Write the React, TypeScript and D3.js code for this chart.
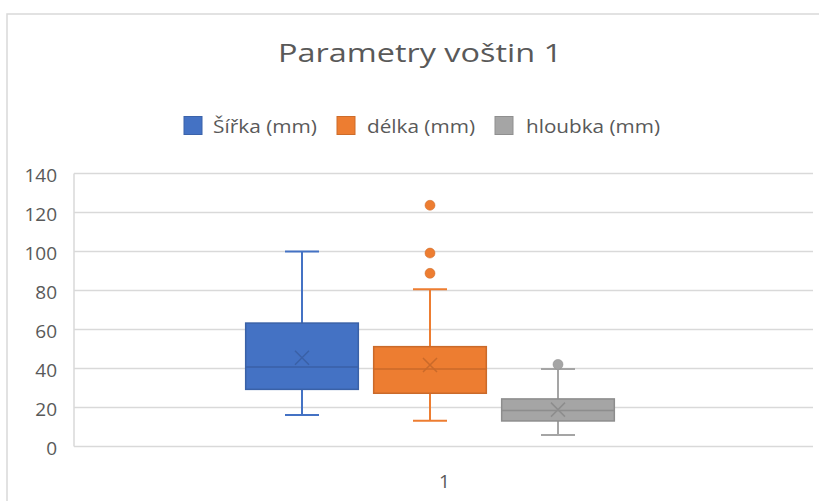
import React from "react";
import * as d3 from "d3";

const categories = ["1"];
const seriesNames = ["Šířka (mm)", "délka (mm)", "hloubka (mm)"];
const seriesColors = ["#4472C4", "#ED7D31", "#A5A5A5"];
// [whiskerLow, q1, median, q3, whiskerHigh, mean]
const sirka = [16.2, 29.3, 40.8, 63.3, 100, 45.5];
const delka = [13.2, 27.3, 39.7, 51.2, 80.6, 41.8];
const hloubka = [5.9, 13.1, 18.4, 24.4, 39.7, 18.9];
const sirkaOutliers: number[] = [];
const delkaOutliers = [123.7, 99.2, 88.8];
const hloubkaOutliers = [42.1];
const yTicks = [0, 20, 40, 60, 80, 100, 120, 140];
const title = "Parametry voštin 1";

const W = 819;
const H = 501;
const FONT = "'Open Sans', 'Liberation Sans', sans-serif";
const TEXT = "#595959";

export default function App() {
  const stats = [sirka, delka, hloubka];
  const outliers = [sirkaOutliers, delkaOutliers, hloubkaOutliers];

  const plot = { left: 74, right: 813, top: 173.5, bottom: 446.5 };
  const y = d3.scaleLinear().domain([0, 140]).range([plot.bottom, plot.top]);
  const x = d3.scaleBand().domain(categories).range([plot.left, plot.right]);
  const inner = d3
    .scaleBand()
    .domain(seriesNames)
    .range([164, 548])
    .paddingInner(0.12)
    .paddingOuter(0.06);
  const bw = inner.bandwidth();
  const capW = 34;

  const legendItems = [
    { sx: 184, tx: 213, tw: 104 },
    { sx: 337, tx: 367, tw: 108 },
    { sx: 495, tx: 526, tw: 134 },
  ];

  return (
    <svg
      width={W}
      height={H}
      style={{ position: "absolute", left: 0, top: 0, background: "#fff" }}
      fontFamily={FONT}
    >
      <rect x={7} y={14} width={900} height={600} fill="#fff" stroke="#d9d9d9" strokeWidth={1.5} />
      <text
        x={420}
        y={62}
        textAnchor="middle"
        fontSize={26}
        fill={TEXT}
        textLength={284}
        lengthAdjust="spacingAndGlyphs"
      >
        {title}
      </text>
      {seriesNames.map((n, i) => (
        <g key={n}>
          <rect x={legendItems[i].sx} y={116.5} width={18} height={18} fill={seriesColors[i]} stroke={d3.color(seriesColors[i])!.darker(0.4).toString()} strokeWidth={1} />
          <text
            x={legendItems[i].tx}
            y={126}
            dominantBaseline="central"
            fontSize={19}
            fill={TEXT}
            textLength={legendItems[i].tw}
            lengthAdjust="spacingAndGlyphs"
          >
            {n}
          </text>
        </g>
      ))}
      {yTicks.map((t) => (
        <g key={t}>
          <line x1={plot.left} x2={plot.right} y1={y(t)} y2={y(t)} stroke="#d9d9d9" strokeWidth={1.5} />
          <text x={57} y={y(t) + 1} textAnchor="end" dominantBaseline="central" fontSize={19} fill={TEXT}>
            {t}
          </text>
        </g>
      ))}
      <line x1={plot.left} x2={plot.left} y1={y(140)} y2={y(0)} stroke="#d9d9d9" strokeWidth={1.5} />
      {categories.map((c) => (
        <text key={c} x={x(c)! + x.bandwidth() / 2 + 1} y={481} textAnchor="middle" dominantBaseline="central" fontSize={19} fill={TEXT}>
          {c}
        </text>
      ))}
      {seriesNames.map((n, i) => {
        const s = stats[i];
        const fill = seriesColors[i];
        const stroke = d3.color(fill)!.darker(0.45).toString();
        const x0 = x(categories[0])! + inner(n)!;
        const cx = x0 + bw / 2;
        const [lo, q1, med, q3, hi, mean] = s;
        const m = 7;
        return (
          <g key={n}>
            <line x1={cx} x2={cx} y1={y(q3)} y2={y(hi)} stroke={fill} strokeWidth={2} />
            <line x1={cx} x2={cx} y1={y(q1)} y2={y(lo)} stroke={fill} strokeWidth={2} />
            <line x1={cx - capW / 2} x2={cx + capW / 2} y1={y(hi)} y2={y(hi)} stroke={fill} strokeWidth={2} />
            <line x1={cx - capW / 2} x2={cx + capW / 2} y1={y(lo)} y2={y(lo)} stroke={fill} strokeWidth={2} />
            <rect x={x0} y={y(q3)} width={bw} height={y(q1) - y(q3)} fill={fill} stroke={stroke} strokeWidth={1.5} />
            <line x1={x0} x2={x0 + bw} y1={y(med)} y2={y(med)} stroke={stroke} strokeWidth={1.5} />
            <path
              d={`M${cx - m},${y(mean) - m}L${cx + m},${y(mean) + m}M${cx - m},${y(mean) + m}L${cx + m},${y(mean) - m}`}
              stroke={stroke}
              strokeWidth={1.5}
              fill="none"
            />
            {outliers[i].map((o, k) => (
              <circle key={k} cx={cx} cy={y(o)} r={5} fill={fill} stroke={stroke} strokeWidth={0.5} />
            ))}
          </g>
        );
      })}
    </svg>
  );
}
